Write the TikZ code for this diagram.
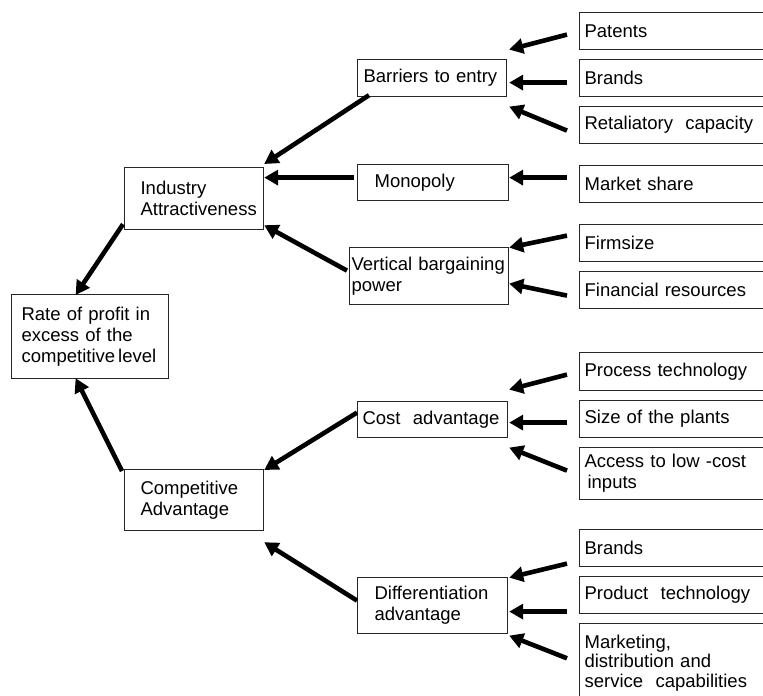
\documentclass[tikz,border=0pt]{standalone}
\usepackage{fontspec}
\setmainfont{Liberation Sans}
\usetikzlibrary{arrows.meta}
\hyphenpenalty=10000
\hfuzz=200pt

\begin{document}
\begin{tikzpicture}[
    x=1pt, y=-1pt,
    box/.style={draw=black!85, line width=1.2pt, anchor=north west, align=left, inner ysep=0pt,
        font=\fontsize{18.5pt}{21pt}\selectfont},
    src/.style={box, text width=201pt, inner xsep=5pt, minimum height=37pt},
    arr/.style={-{Triangle[length=14pt,width=15pt]}, line width=4.6pt}
]
\useasboundingbox (0,0) rectangle (763,696);

% result
\node[box, text width=137pt, inner xsep=10pt, minimum height=84pt] (rate) at (11,294) {Rate of profit in\\excess of the\\competitive\kern3pt level};

% two sources
\node[box, text width=107pt, inner xsep=16pt, minimum height=62pt] (ind) at (124,167) {Industry\\Attractiveness};
\node[box, text width=107pt, inner xsep=16pt, minimum height=61pt] (comp) at (124,469) {Competitive\\Advantage};

% middle column
\node[box, text width=137pt, inner xsep=6pt, minimum height=37pt] (bar) at (357,59) {Barriers to entry};
\node[box, text width=117pt, inner xsep=17pt, minimum height=36pt] (mono) at (357,164) {Monopoly};
\node[box, text width=155pt, inner xsep=2pt, minimum height=57pt] (vbp) at (349,247) {Vertical bargaining\\power};
\node[box, text width=140pt, inner xsep=5pt, minimum height=36pt] (cost) at (357,401) {Cost\ \ advantage};
\node[box, text width=116pt, inner xsep=17pt, minimum height=56pt] (diff) at (357,577) {Differentiation\\advantage};

% right column
\node[src] (pat) at (579,12) {Patents};
\node[src] (brand) at (579,59) {Brands};
\node[src] (retal) at (579,106) {Retaliatory\ \ capacity};
\node[src] (mshare) at (579,165) {Market\ share};
\node[src] (fsize) at (579,224) {Firmsize};
\node[src] (fin) at (579,271) {Financial resources};
\node[src, minimum height=38pt] (proc) at (579,352) {Process technology};
\node[src] (plant) at (579,400) {Size of the plants};
\node[src, minimum height=52pt] (inputs) at (579,447) {Access to low -cost\\\hspace*{3pt}inputs};
\node[src] (brand2) at (579,529) {Brands};
\node[src] (ptech) at (579,576) {Product\ \ technology};
\node[src, minimum height=0pt, inner ysep=11pt, text depth=56pt, font=\fontsize{18.5pt}{19.5pt}\selectfont] (mktg) at (579,623) {Marketing,\\distribution and\\service\ \ capabilities};

% right -> middle
\draw[arr] ([xshift=-12pt,yshift=-3.5pt]pat.west) -- ([xshift=2pt,yshift=28.5pt]bar.east);
\draw[arr] ([xshift=-12pt,yshift=-4.5pt]brand.west) -- ([xshift=2pt,yshift=-4.5pt]bar.east);
\draw[arr] ([xshift=-12pt,yshift=-5.5pt]retal.west) -- ([xshift=2pt,yshift=-28.5pt]bar.east);
\draw[arr] ([xshift=-12pt,yshift=6.5pt]mshare.west) -- ([yshift=5pt]mono.east);
\draw[arr] ([xshift=-12pt,yshift=7.5pt]fsize.west) -- ([yshift=28.5pt]vbp.east);
\draw[arr] ([xshift=-12pt,yshift=-5.5pt]fin.west) -- ([yshift=-7.5pt]vbp.east);
\draw[arr] ([xshift=-12pt,yshift=-3pt]proc.west) -- ([xshift=1pt,yshift=30pt]cost.east);
\draw[arr] ([xshift=-12pt,yshift=-3.5pt]plant.west) -- ([xshift=1pt,yshift=-3pt]cost.east);
\draw[arr] ([xshift=-12pt,yshift=3pt]inputs.west) -- ([xshift=1pt,yshift=-28pt]cost.east);
\draw[arr] ([xshift=-12pt,yshift=-15.5pt]brand2.west) -- ([xshift=1pt,yshift=28pt]diff.east);
\draw[arr] ([xshift=-12pt,yshift=-16.5pt]ptech.west) -- ([xshift=1pt,yshift=-6pt]diff.east);
\draw[arr] ([xshift=-12pt,yshift=11pt]mktg.west) -- ([xshift=1pt,yshift=-30pt]diff.east);

% middle -> left
\draw[arr] ([xshift=12pt,yshift=2pt]bar.south west) -- ([yshift=3pt]ind.north east);
\draw[arr] ([xshift=-3pt,yshift=5pt]mono.west) -- ([yshift=21pt]ind.east);
\draw[arr] ([xshift=-2pt,yshift=5.5pt]vbp.west) -- ([yshift=5pt]ind.south east);
\draw[arr] ([yshift=7pt]cost.west) -- ([yshift=-1pt]comp.north east);
\draw[arr] ([yshift=5pt]diff.west) -- ([yshift=-11pt]comp.south east);

% left -> result
\draw[arr] ([xshift=-1pt,yshift=6pt]ind.south west) -- ([xshift=-14.5pt,yshift=-1pt]rate.north);
\draw[arr] ([xshift=-2pt,yshift=-2pt]comp.north west) -- ([xshift=-14.5pt,yshift=1pt]rate.south);
\end{tikzpicture}
\end{document}
